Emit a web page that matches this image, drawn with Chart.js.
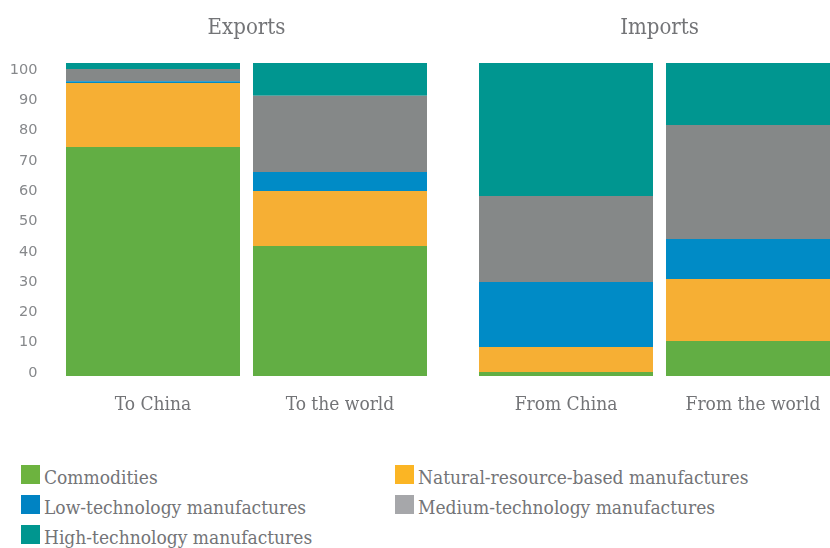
<!DOCTYPE html>
<html>
<head>
<meta charset="utf-8">
<script src="https://cdn.jsdelivr.net/npm/chart.js@4.4.1/dist/chart.umd.min.js"></script>
<style>
  html, body { margin: 0; padding: 0; background: #fff; overflow: hidden; }
  body { width: 830px; height: 548px; position: relative; }
  #exports { position: absolute; left: 0; top: 0; width: 460px; height: 430px; }
  #imports { position: absolute; left: 450px; top: 0; width: 420px; height: 430px; }
  #legend { position: absolute; left: 0; top: 465px; width: 830px; }
  .item { position: absolute; height: 19px; display: flex; align-items: center; white-space: nowrap;
          font-family: "DejaVu Serif Condensed", "DejaVu Serif", serif; font-size: 19px; color: #737477; }
  .item span.box { width: 19px; height: 19px; display: inline-block; margin-right: 4px; }
  .item span.txt { position: relative; top: 2px; }
</style>
</head>
<body>
<canvas id="exports"></canvas>
<canvas id="imports"></canvas>
<div id="legend"></div>
<script>
// groups and bars
const exportLabels = ['To China', 'To the world'];
const importLabels = ['From China', 'From the world'];

// share of each product group, % (to China, to world, from China, from world)
const seriesNames = [
  'Commodities',
  'Natural-resource-based manufactures',
  'Low-technology manufactures',
  'Medium-technology manufactures',
  'High-technology manufactures'
];
const commodities = [73.2, 41.5, 1.3, 11.2];
const naturalResource = [20.4, 17.6, 8.0, 19.8];
const lowTech = [0.6, 6.1, 20.7, 12.8];
const mediumTech = [3.9, 24.3, 27.5, 36.4];
const highTech = [1.9, 10.5, 42.5, 19.8];

const yTicks = [0, 10, 20, 30, 40, 50, 60, 70, 80, 90, 100];

const barColors = ['#62ae44', '#f6af34', '#008bc6', '#858888', '#009690'];
const legendColors = ['#6db33f', '#fbb524', '#0083c3', '#a6a7aa', '#00968f'];

const allSeries = [commodities, naturalResource, lowTech, mediumTech, highTech];
const textGray = '#737477';
const serif = '"DejaVu Serif Condensed", "DejaVu Serif", serif';

function makeChart(id, title, labels, from, showAxis, padLeft, padRight) {
  const datasets = seriesNames.map((name, i) => ({
    label: name,
    data: allSeries[i].slice(from, from + 2),
    backgroundColor: barColors[i],
    borderWidth: 0,
    categoryPercentage: 1,
    barPercentage: 0.9305,
    yAxisID: 'y'
  }));

  const scales = {
    x: {
      stacked: true,
      grid: { display: false, drawTicks: false },
      border: { display: false },
      ticks: { color: textGray, padding: 18, font: { family: serif, size: 19 } },
      afterFit: axis => { axis.height = 54; }
    },
    y: { stacked: true, min: 0, max: 100, display: false }
  };
  if (showAxis) {
    // tick labels sit a little off the bar scale, as in the original
    scales.yl = {
      type: 'linear',
      position: 'left',
      min: -0.99,
      max: 102.31,
      grid: { display: false, drawTicks: false },
      border: { display: false },
      ticks: { color: '#86888b', padding: 22, font: { family: 'DejaVu Sans', size: 14.5 } },
      afterBuildTicks: axis => { axis.ticks = yTicks.map(v => ({ value: v })); },
      afterFit: axis => { axis.width = 59.5; }
    };
  }

  return new Chart(document.getElementById(id), {
    type: 'bar',
    data: { labels: labels, datasets: datasets },
    options: {
      responsive: false,
      animation: false,
      layout: { padding: { top: 0, bottom: 0, left: padLeft, right: padRight } },
      plugins: {
        legend: { display: false },
        tooltip: { enabled: false },
        title: {
          display: true,
          text: title,
          fullSize: false,
          color: textGray,
          font: { family: serif, size: 22, weight: 'normal', lineHeight: 1.2 },
          padding: { top: 14.6, bottom: 22 }
        }
      },
      scales: scales
    }
  });
}

function sizeCanvas(id, w, h) {
  const c = document.getElementById(id);
  c.width = w; c.height = h;
}
sizeCanvas('exports', 460, 430);
sizeCanvas('imports', 420, 430);

makeChart('exports', 'Exports', exportLabels, 0, true, 0, 26.5);
makeChart('imports', 'Imports', importLabels, 2, false, 22.5, 23.5);

// legend, two columns
const legend = document.getElementById('legend');
seriesNames.forEach((name, i) => {
  const div = document.createElement('div');
  div.className = 'item';
  div.style.left = (i % 2 === 0 ? 21 : 395) + 'px';
  div.style.top = (Math.floor(i / 2) * 30) + 'px';
  div.innerHTML = '<span class="box" style="background:' + legendColors[i] + '"></span><span class="txt">' + name + '</span>';
  legend.appendChild(div);
});
</script>
</body>
</html>
